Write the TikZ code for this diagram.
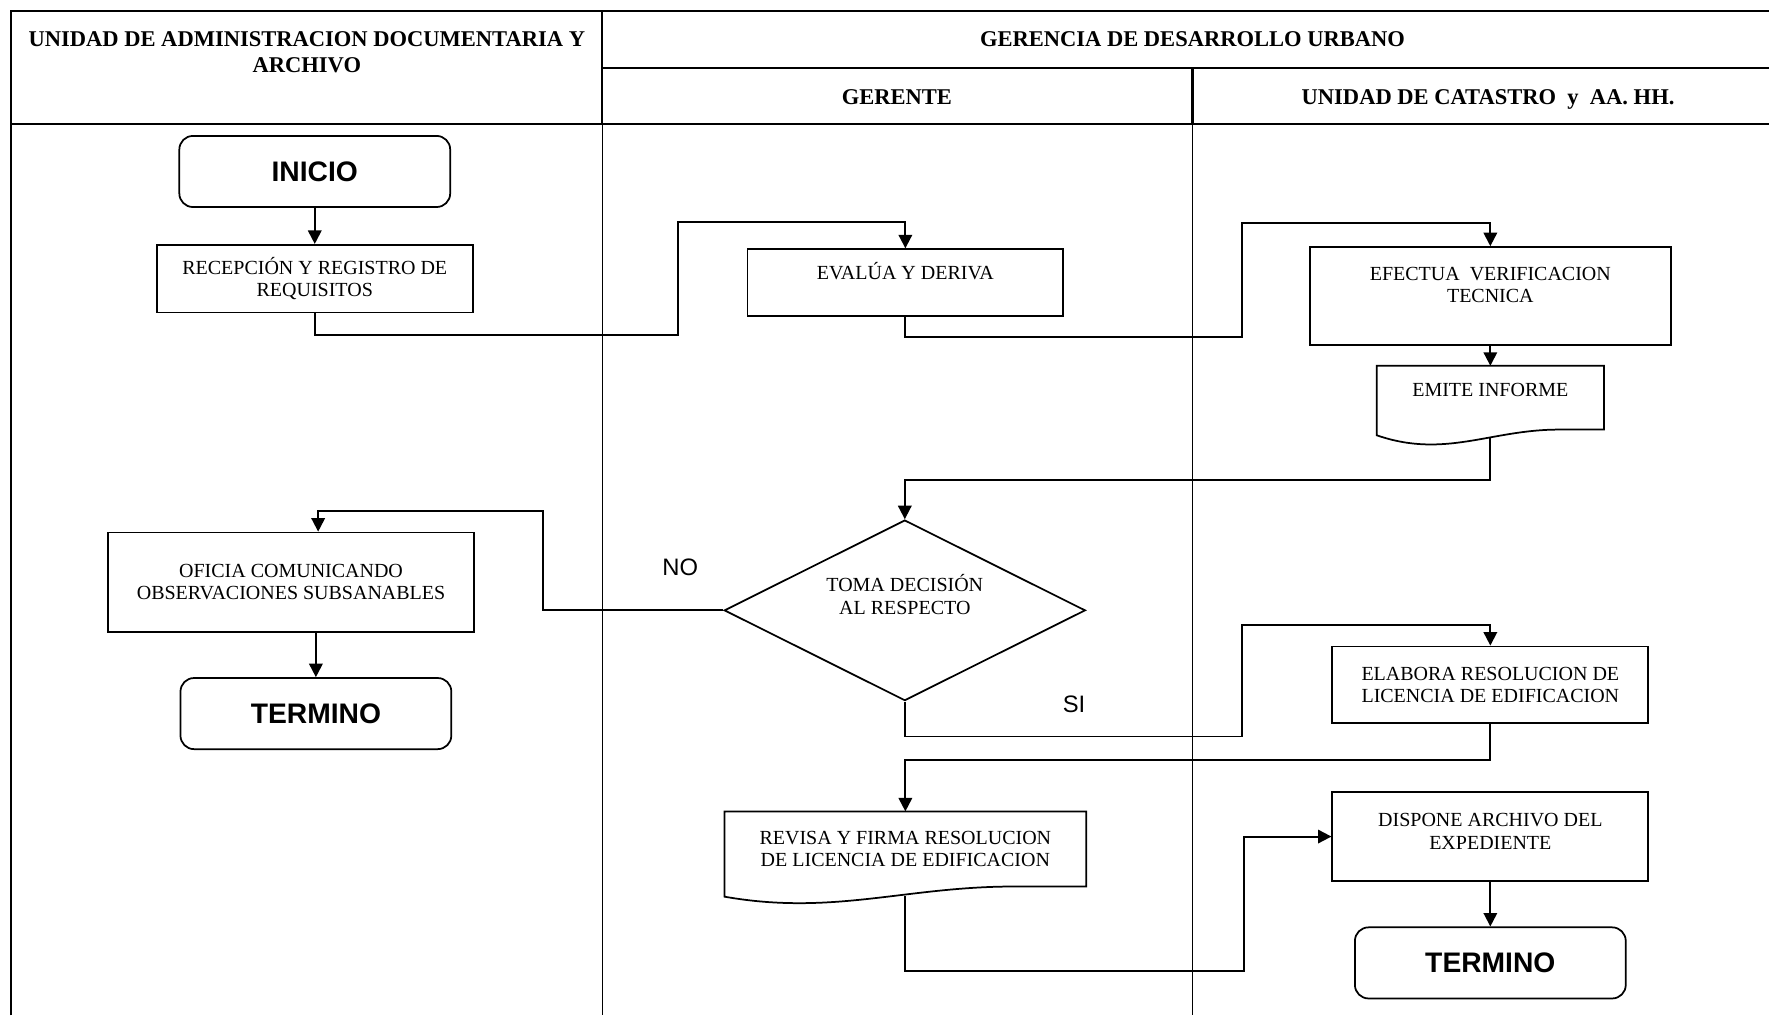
\documentclass[tikz,border=0pt]{standalone}
\usepackage{fontspec}
\setmainfont{Liberation Serif}
\newfontfamily\arialfont{Liberation Sans}
\usetikzlibrary{shapes.geometric,arrows.meta,calc}

% outline of a document box: #1 node, #2 left drop, #3 wave control
\newcommand{\docbottom}[3]{%
  \draw[boxline] (#1.south east) -- (#1.north east) -- (#1.north west) -- ($(#1.south west)+(0,#2)$)
    .. controls ($(#1.south west)!0.3!(#1.south east)+(0,#3)$) and ($(#1.south west)!0.5!(#1.south east)$)
    .. ($(#1.south west)!0.8!(#1.south east)$) -- cycle;
}

\begin{document}
\begin{tikzpicture}[x=0.025cm, y=-0.025cm,
    laneframe/.style={line width=1.3pt},
    lanefine/.style={line width=0.5pt},
    headtxt/.style={font=\fontsize{14.2}{16.4}\selectfont\bfseries, align=center, text depth=0pt},
    procbox/.style={draw, line width=1.1pt, rectangle, inner sep=0pt, align=center, font=\fontsize{12.6}{14.2}\selectfont},
    docbox/.style={procbox, draw=none},
    termbox/.style={draw, line width=1.1pt, rounded corners=0.3cm, inner sep=0pt, minimum width=6cm, minimum height=1.575cm, font=\arialfont\bfseries\fontsize{17.8}{20}\selectfont},
    decbox/.style={procbox, diamond, aspect=2, minimum width=8cm, minimum height=4cm},
    lbltxt/.style={font=\arialfont\fontsize{15}{18}\selectfont},
    flowline/.style={line width=1.2pt, -{Triangle[length=8.5pt,width=8.5pt]}},
    boxline/.style={line width=1.1pt}]

    \useasboundingbox (0,0) rectangle (1568,900);

    % swimlanes
    \draw[laneframe] (10,900) -- (10,10) -- (1568,10);
    \draw[laneframe] (534,60) -- (1568,60);
    \draw[laneframe] (10,110) -- (1568,110);
    \draw[laneframe] (534,10) -- (534,110);
    \draw[laneframe] (1057,60) -- (1057,110);
    \draw[lanefine] (534,110) -- (534,900);
    \draw[lanefine] (1057,110) -- (1057,900);

    \node[headtxt] (hadm) at (272,46.5) {UNIDAD DE ADMINISTRACION DOCUMENTARIA Y\\ARCHIVO};
    \node[headtxt] (hger) at (1057,35) {GERENCIA DE DESARROLLO URBANO};
    \node[headtxt] (hgte) at (795,86) {GERENTE};
    \node[headtxt] (hcat) at (1319,86) {UNIDAD DE CATASTRO \ y \ AA. HH.};

    % steps
    \node[termbox] (inicio) at (279,152) {INICIO};
    \node[procbox, minimum width=7cm, minimum height=1.5cm] (recep) at (279,247) {RECEPCIÓN Y REGISTRO DE\\REQUISITOS};
    \node[procbox, minimum width=7cm, minimum height=1.48cm] (evalua) at (802.5,250.5) {EVALÚA Y DERIVA\\~};
    \node[procbox, minimum width=8cm, minimum height=2.175cm] (efectua) at (1321,262.5) {EFECTUA \ VERIFICACION\\TECNICA\\~};
    \node[docbox, minimum width=5cm, minimum height=1.375cm] (emite) at (1321,352.5) {EMITE INFORME\\[-4pt]~};
    \docbottom{emite}{5}{26}
    \node[decbox] (decision) at (802,541) {TOMA DECISIÓN\\AL RESPECTO\\[6pt]~};
    \node[procbox, minimum width=8.1cm, minimum height=2.2cm] (oficia) at (258,516) {OFICIA COMUNICANDO\\OBSERVACIONES SUBSANABLES};
    \node[termbox] (termino1) at (280,632.5) {TERMINO};
    \node[procbox, minimum width=7cm, minimum height=1.7cm] (elabora) at (1321,607) {ELABORA RESOLUCION DE\\LICENCIA DE EDIFICACION};
    \node[docbox, minimum width=7.975cm, minimum height=1.625cm] (revisa) at (802.5,752.5) {REVISA Y FIRMA RESOLUCION\\DE LICENCIA DE EDIFICACION};
    \docbottom{revisa}{9}{26}
    \node[procbox, minimum width=7cm, minimum height=1.975cm] (dispone) at (1321,741.5) {DISPONE ARCHIVO DEL\\EXPEDIENTE\\[-8pt]~};
    \node[termbox] (termino2) at (1321,853.5) {TERMINO};

    \node[lbltxt] (no) at (603,503) {NO};
    \node[lbltxt] (si) at (952,624) {SI};

    % connections
    \draw[flowline] (inicio) -- (recep);
    \draw[flowline] (recep.south) -- ++(0,19) -- ++(322,0) -- ++(0,-100) -| (evalua.north);
    \draw[flowline] (evalua.south) -- ++(0,17.5) -- ++(298.5,0) -- ++(0,-101) -| (efectua.north);
    \draw[flowline] (efectua) -- (emite);
    \draw[flowline] ($(emite.south)+(0,7)$) -- ++(0,38) -| (decision.north);
    \draw[flowline] (decision.west) -- ++(-160,0) -- ++(0,-88) -| ([xshift=0.6cm]oficia.north);
    \draw[flowline] (oficia.south -| termino1.north) -- (termino1.north);
    \draw[flowline] (decision.south) -- ++(0,31) -- ++(299,0) -- ++(0,-99) -| (elabora.north);
    \draw[flowline] (elabora.south) -- ++(0,32) -| (revisa.north);
    \draw[flowline] ($(revisa.south)+(0,8)$) -- ++(0,67) -- ++(300,0) |- (dispone.west);
    \draw[flowline] (dispone) -- (termino2);
\end{tikzpicture}
\end{document}
